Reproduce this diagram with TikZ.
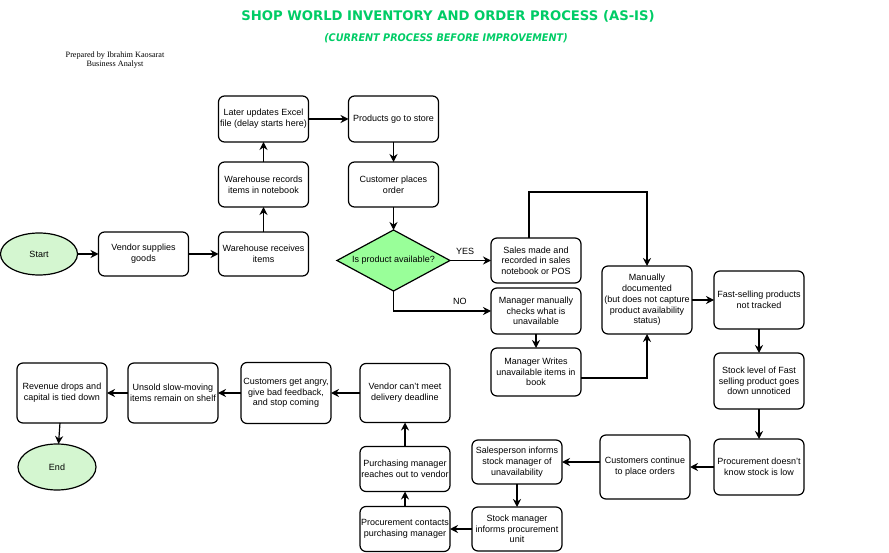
\documentclass[tikz,border=0pt]{standalone}
\usepackage{fontspec}
\setmainfont{Liberation Sans}
\newfontfamily\titlefont{DejaVu Sans}
\newfontfamily\subtitlefont[FakeStretch=0.92]{DejaVu Sans}
\newfontfamily\notefont{Liberation Serif}
\usetikzlibrary{positioning,shapes.geometric,arrows.meta}
\definecolor{titlegreen}{RGB}{0,204,102}
\definecolor{termgreen}{RGB}{212,246,208}
\definecolor{askgreen}{RGB}{153,255,153}

\begin{document}
\begin{tikzpicture}[x=1pt, y=1pt,
						block/.style={rectangle, rounded corners=6pt, draw=black, line width=1.2pt, outer sep=0pt, minimum width=90pt, minimum height=45pt, inner sep=1pt, align=center, font=\fontsize{9}{10.7}\selectfont},
						terminal/.style={ellipse, draw=black, line width=1.2pt, outer sep=0pt, fill=termgreen, minimum width=77pt, minimum height=42pt, font=\fontsize{9}{10.7}\selectfont},
						ask/.style={diamond, aspect=2, draw=black, line width=1.2pt, outer sep=0pt, fill=askgreen, minimum width=113pt, minimum height=61pt, inner sep=0pt, font=\fontsize{9}{10.7}\selectfont},
						label/.style={font=\fontsize{9}{10.7}\selectfont}
					]
					\useasboundingbox (0,0) rectangle (889,-553);
					\node[text=titlegreen, font=\titlefont\bfseries\fontsize{13.2}{15}\selectfont] (title) at (448,-16) {SHOP WORLD INVENTORY AND ORDER PROCESS (AS-IS)};
					\node[text=titlegreen, font=\subtitlefont\bfseries\itshape\fontsize{10.5}{12}\selectfont] (subtitle) at (446,-38) {(CURRENT PROCESS BEFORE IMPROVEMENT)};
					\node[align=center, font=\notefont\fontsize{8.2}{9}\selectfont] (prepared) at (115,-60) {Prepared by Ibrahim Kaosarat\\Business Analyst};
					% top row
					\node[terminal] (start) at (39,-254) {Start};
					\node[block, minimum height=44pt] (vendor) [right=21pt of start] {Vendor supplies\\goods};
					\node[block, minimum height=44pt] (receives) [right=30pt of vendor] {Warehouse receives\\items};
					\node[block] (records) [above=25pt of receives] {Warehouse records\\items in notebook};
					\node[block, minimum height=46pt] (excel) [above=20pt of records] {Later updates Excel\\file (delay starts here)};
					\node[block, minimum height=46pt] (store) [right=40pt of excel] {Products go to store};
					\node[block] (order) [below=20pt of store] {Customer places\\order};
					\node[ask] (available) [below=23pt of order] {Is product available?};
					\node[block] (sales) [right=41pt of available] {Sales made and\\recorded in sales\\notebook or POS};
					\node[block, minimum height=46pt] (checks) [below=5pt of sales] {Manager manually\\checks what is\\unavailable};
					\node[block, minimum height=48pt] (writes) [below=14pt of checks] {Manager Writes\\unavailable items in\\book};
					% right column
					\node[block, minimum height=68pt] (manual) at (647,-300) {Manually\\documented\\(but does not capture\\product availability\\status)};
					\node[block, minimum height=58pt] (fast) [right=22pt of manual] {Fast-selling products\\not tracked};
					\node[block, minimum height=56pt] (stock) [below=24pt of fast] {Stock level of Fast\\selling product goes\\down unnoticed};
					\node[block, minimum height=56pt] (unaware) [below=30pt of stock] {Procurement doesn't\\know stock is low};
					% bottom row
					\node[block, minimum height=64pt] (continue) [left=24pt of unaware] {Customers continue\\to place orders};
					\node[block, minimum height=44pt] (informs) [left=38pt of continue, yshift=5pt] {Salesperson informs\\stock manager of\\unavailability};
					\node[block, minimum height=44pt] (stockmgr) [below=23pt of informs] {Stock manager\\informs procurement\\unit};
					\node[block] (contacts) [left=22pt of stockmgr] {Procurement contacts\\purchasing manager};
					\node[block] (purchasing) [above=15pt of contacts] {Purchasing manager\\reaches out to vendor};
					\node[block, minimum height=59pt] (deadline) [above=24pt of purchasing] {Vendor can't meet\\delivery deadline};
					\node[block, minimum height=61pt] (angry) [left=29pt of deadline] {Customers get angry,\\give bad feedback,\\and stop coming};
					\node[block, minimum height=60pt] (unsold) [left=23pt of angry] {Unsold slow-moving\\items remain on shelf};
					\node[block, minimum height=60pt] (revenue) [left=21pt of unsold] {Revenue drops and\\capital is tied down};
					\node[terminal, minimum width=78pt, minimum height=46pt] (end) [below=21pt of revenue, xshift=-5pt] {End};
					\begin{scope}[line width=1.2pt, -{Stealth[length=8pt,width=8pt]}]
					\draw (start) -- (vendor);
					\draw (vendor) -- (receives);
					\draw (receives) -- (records);
					\draw (records) -- (excel);
					\draw (excel) -- (store);
					\draw (store) -- (order);
					\draw (order) -- (available);
					\draw (available.east) -- (sales.west) node[label, pos=0.37, above=2pt] {YES};
					\draw (available.south) |- (checks.west) node[label, pos=0.84, above=2pt] {NO};
					\draw (checks) -- (writes);
					\draw ([xshift=-7pt]sales.north) -- ++(0,46) -| (manual.north);
					\draw ([yshift=-6pt]writes.east) -| (manual.south);
					\draw (manual) -- (fast);
					\draw (fast) -- (stock);
					\draw (stock) -- (unaware);
					\draw (unaware) -- (continue);
					\draw (continue.west |- informs.east) -- (informs.east);
					\draw (informs) -- (stockmgr);
					\draw (stockmgr) -- (contacts);
					\draw (contacts) -- (purchasing);
					\draw (purchasing) -- (deadline);
					\draw (deadline) -- (angry);
					\draw (angry) -- (unsold);
					\draw (unsold) -- (revenue);
					\draw (revenue) -- (end);
					\end{scope}
					\end{tikzpicture}
\end{document}
